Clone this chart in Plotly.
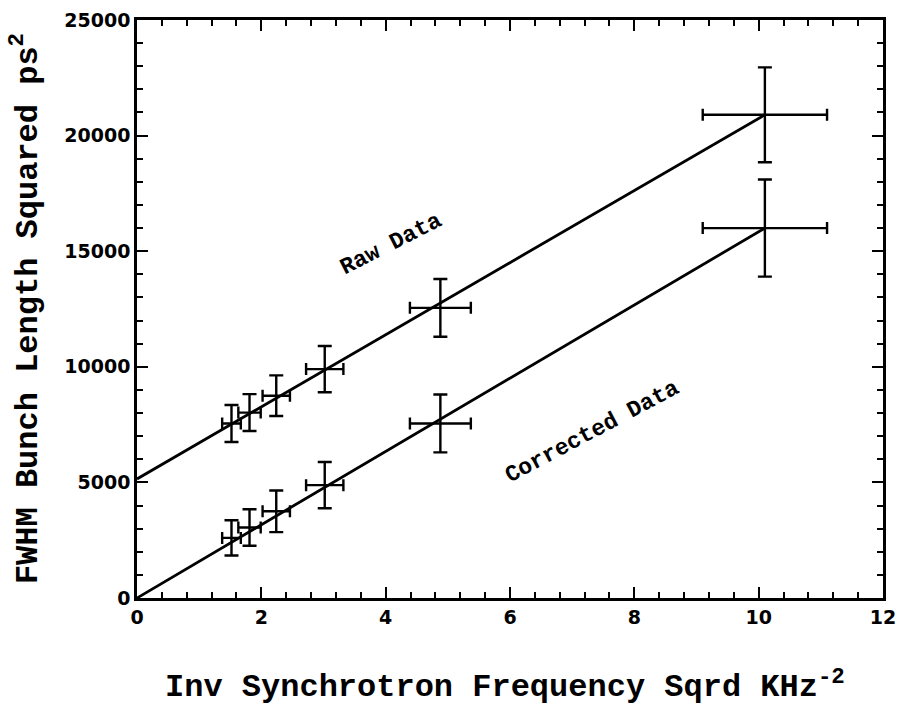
import plotly.graph_objects as go

# Data
x_vals = [1.52, 1.81, 2.24, 3.02, 4.88, 10.1]
x_err = [0.15, 0.18, 0.22, 0.30, 0.49, 1.0]
raw_y = [7550, 8020, 8750, 9900, 12550, 20900]
raw_yerr = [800, 800, 880, 1000, 1250, 2050]
corr_y = [2600, 3050, 3750, 4880, 7550, 16000]
corr_yerr = [760, 790, 900, 1000, 1250, 2100]

fit_x = [0, 10.1]
raw_fit_y = [5150, 20900]
corr_fit_y = [0, 16000]

x_ticks = [0, 2, 4, 6, 8, 10, 12]
y_ticks = [0, 5000, 10000, 15000, 20000, 25000]

fig = go.Figure()

for fy in (raw_fit_y, corr_fit_y):
    fig.add_trace(go.Scatter(x=fit_x, y=fy, mode="lines",
                             line=dict(color="black", width=2.8),
                             showlegend=False, hoverinfo="skip"))

for yv, ye in ((raw_y, raw_yerr), (corr_y, corr_yerr)):
    fig.add_trace(go.Scatter(
        x=x_vals, y=yv, mode="markers",
        marker=dict(size=1, color="black"),
        error_x=dict(type="data", array=x_err, color="black", thickness=2.4, width=6),
        error_y=dict(type="data", array=ye, color="black", thickness=2.4, width=7),
        showlegend=False))

annfont = dict(family="Liberation Mono", size=23, color="black", weight="bold")
fig.add_annotation(x=4.1, y=15300, text="Raw Data", showarrow=False,
                   textangle=-27, font=annfont)
fig.add_annotation(x=7.33, y=7160, text="Corrected Data", showarrow=False,
                   textangle=-28, font=annfont)

fig.add_annotation(xref="paper", yref="paper", x=0.493, y=-0.15, xanchor="center", yanchor="middle",
                   text="Inv Synchrotron Frequency Sqrd KHz<sup>-2</sup>", showarrow=False,
                   font=dict(family="Liberation Mono", size=32, color="black", weight="bold"))
fig.add_annotation(xref="paper", yref="paper", x=-0.15, y=0.5, xanchor="center", yanchor="middle",
                   text="FWHM Bunch Length Squared ps<sup>2</sup>", showarrow=False, textangle=-90,
                   font=dict(family="Liberation Mono", size=32, color="black", weight="bold"))

tickfont = dict(family="DejaVu Sans", size=19, color="black", weight="bold")

fig.update_xaxes(range=[0, 12], tickvals=x_ticks, ticktext=[str(v) for v in x_ticks],
                 ticks="inside", ticklen=11, tickwidth=2, tickcolor="black",
                 minor=dict(dtick=0.4, tick0=0, ticks="inside", ticklen=6, tickwidth=1.5, tickcolor="black"),
                 showline=True, linecolor="black", linewidth=2.5, mirror="allticks",
                 showgrid=False, zeroline=False, tickfont=tickfont, automargin=False)
fig.update_yaxes(range=[0, 25000], tickvals=y_ticks, ticktext=[str(v) for v in y_ticks],
                 ticks="inside", ticklen=11, tickwidth=2, tickcolor="black",
                 minor=dict(dtick=1000, tick0=0, ticks="inside", ticklen=6, tickwidth=1.5, tickcolor="black"),
                 showline=True, linecolor="black", linewidth=2.5, mirror="allticks",
                 showgrid=False, zeroline=False, tickfont=tickfont, automargin=False)

fig.update_layout(width=899, height=706, plot_bgcolor="white", paper_bgcolor="white",
                  margin=dict(l=137, r=16, t=20, b=108))

# remove the browser's default 8px body margin so the figure fills the window exactly
fig.write_html("out.html", config={"displayModeBar": False},
               post_script="document.body.style.margin='0';document.body.style.overflow='hidden';")
